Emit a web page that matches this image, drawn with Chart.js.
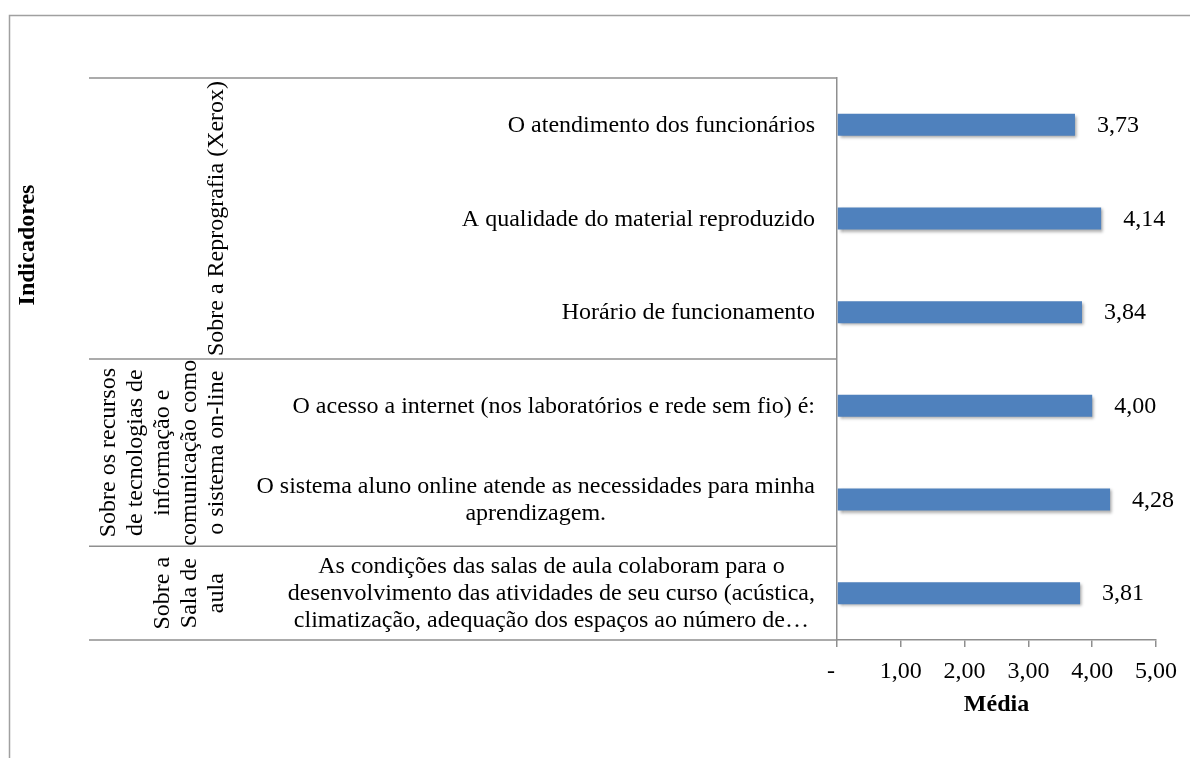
<!DOCTYPE html>
<html>
<head>
<meta charset="utf-8">
<script src="https://cdn.jsdelivr.net/npm/chart.js@4.4.0/dist/chart.umd.min.js"></script>
<style>
  html, body { margin: 0; padding: 0; background: #fff; }
  #wrap { width: 1190px; height: 758px; }
</style>
</head>
<body>
<div id="wrap"><canvas id="chart" width="1190" height="758"></canvas></div>
<script>
// --- DATA ---
// categories top to bottom, each one split into its printed lines
const categoryLines = [
    ['O atendimento dos funcionários'],
    ['A qualidade do material reproduzido'],
    ['Horário de funcionamento'],
    ['O acesso a internet (nos laboratórios e rede sem fio) é:'],
    ['O sistema aluno online atende as necessidades para minha', 'aprendizagem.'],
    ['As condições das salas de aula colaboram para o',
     'desenvolvimento das atividades de seu curso (acústica,',
     'climatização, adequação dos espaços ao número de…']
];
const values = [3.73, 4.14, 3.84, 4.00, 4.28, 3.81];

const groupLabels = [
    ['Sobre a Reprografia (Xerox)'],
    ['Sobre os recursos', 'de tecnologias de', 'informação e', 'comunicação como', 'o sistema on-line'],
    ['Sobre a', 'Sala de', 'aula']
];
const groupSizes = [3, 2, 1];

const xTickLabels = ['-  ', '1,00', '2,00', '3,00', '4,00', '5,00'];
const xTitle = 'Média';
const yTitle = 'Indicadores';

// --- STYLE ---
const FONT = '"Liberation Serif", "Times New Roman", serif';
const FONT_SIZE = 24;
const LINE_GAP = 27;
const AXIS_GREY = '#8f8f8f';
const BAR_BLUE = '#4F81BD';

function fmt(v) {
    return v.toFixed(2).replace('.', ',');
}

// frame, category labels, group labels, separators, value labels
const decorPlugin = {
    id: 'decor',
    beforeDraw(chart) {
        const ctx = chart.ctx;
        ctx.save();
        ctx.fillStyle = '#fff';
        ctx.fillRect(0, 0, chart.width, chart.height);
        ctx.strokeStyle = '#a0a0a0';
        ctx.lineWidth = 1.5;
        ctx.beginPath();
        ctx.moveTo(chart.width + 5, 15.5);
        ctx.lineTo(9.5, 15.5);
        ctx.lineTo(9.5, chart.height + 5);
        ctx.stroke();
        ctx.restore();
    },
    afterDraw(chart) {
        const ctx = chart.ctx;
        const y = chart.scales.y;
        const area = chart.chartArea;
        const labelRight = area.left - 22;
        const lineLeft = 89;

        ctx.save();
        ctx.fillStyle = '#000';
        ctx.font = FONT_SIZE + 'px ' + FONT;
        ctx.textBaseline = 'middle';
        ctx.textAlign = 'center';

        // category labels: block right aligned, lines centred in the block
        categoryLines.forEach((lines, i) => {
            const cy = y.getPixelForValue(i);
            const w = Math.max(...lines.map(l => ctx.measureText(l).width));
            const cx = labelRight - w / 2;
            const y0 = cy - (lines.length - 1) * LINE_GAP / 2;
            lines.forEach((l, k) => ctx.fillText(l, cx, y0 + k * LINE_GAP + 1));
        });

        // separators and group labels
        ctx.strokeStyle = AXIS_GREY;
        ctx.lineWidth = 1.5;
        let start = 0;
        const bounds = [y.getPixelForValue(-0.5)];
        groupSizes.forEach((n, g) => {
            const top = y.getPixelForValue(start - 0.5);
            const bottom = y.getPixelForValue(start + n - 0.5);
            bounds.push(bottom);
            const lines = groupLabels[g];
            const cy = (top + bottom) / 2;
            const lastX = 217;
            lines.forEach((l, k) => {
                const lx = lastX - (lines.length - 1 - k) * LINE_GAP;
                ctx.save();
                ctx.translate(lx, cy);
                ctx.rotate(-Math.PI / 2);
                ctx.fillText(l, 0, 0);
                ctx.restore();
            });
            start += n;
        });
        bounds.forEach(b => {
            ctx.beginPath();
            ctx.moveTo(lineLeft, b);
            ctx.lineTo(area.left, b);
            ctx.stroke();
        });

        // y axis title
        ctx.save();
        ctx.font = 'bold ' + FONT_SIZE + 'px ' + FONT;
        ctx.translate(28, 245);
        ctx.rotate(-Math.PI / 2);
        ctx.fillText(yTitle, 0, 0);
        ctx.restore();

        // value labels next to the bars
        ctx.textAlign = 'left';
        const meta = chart.getDatasetMeta(0);
        meta.data.forEach((bar, i) => {
            ctx.fillText(fmt(values[i]), bar.x + 22, bar.y + 1);
        });
        ctx.restore();
    }
};

const shadowPlugin = {
    id: 'barShadow',
    beforeDatasetDraw(chart) {
        const ctx = chart.ctx;
        ctx.save();
        ctx.shadowColor = 'rgba(0,0,0,0.35)';
        ctx.shadowBlur = 3;
        ctx.shadowOffsetX = 2;
        ctx.shadowOffsetY = 2;
    },
    afterDatasetDraw(chart) {
        chart.ctx.restore();
    }
};

new Chart(document.getElementById('chart'), {
    type: 'bar',
    data: {
        labels: categoryLines.map(l => l.join(' ')),
        datasets: [{
            data: values,
            backgroundColor: BAR_BLUE,
            borderWidth: 0,
            barPercentage: 0.235,
            categoryPercentage: 1
        }]
    },
    options: {
        indexAxis: 'y',
        responsive: false,
        animation: false,
        devicePixelRatio: 1,
        layout: { padding: { top: 78, right: 34, left: 0, bottom: 0 } },
        plugins: {
            legend: { display: false },
            tooltip: { enabled: false }
        },
        scales: {
            x: {
                min: 0,
                max: 5,
                afterFit(scale) { scale.height = 118; },
                ticks: {
                    stepSize: 1,
                    padding: 10,
                    color: '#000',
                    font: { family: FONT, size: FONT_SIZE },
                    callback: (v, i) => xTickLabels[i]
                },
                grid: {
                    drawOnChartArea: false,
                    drawTicks: true,
                    tickLength: 7,
                    color: AXIS_GREY,
                    lineWidth: 1.5
                },
                border: { display: true, color: AXIS_GREY, width: 1.5 },
                title: {
                    display: true,
                    text: xTitle,
                    color: '#000',
                    font: { family: FONT, size: FONT_SIZE, weight: 'bold' },
                    padding: { top: 0, bottom: 39 }
                }
            },
            y: {
                afterFit(scale) { scale.width = 837; },
                ticks: { display: false },
                grid: { display: false },
                border: { display: true, color: AXIS_GREY, width: 1.5 }
            }
        }
    },
    plugins: [shadowPlugin, decorPlugin]
});
</script>
</body>
</html>
